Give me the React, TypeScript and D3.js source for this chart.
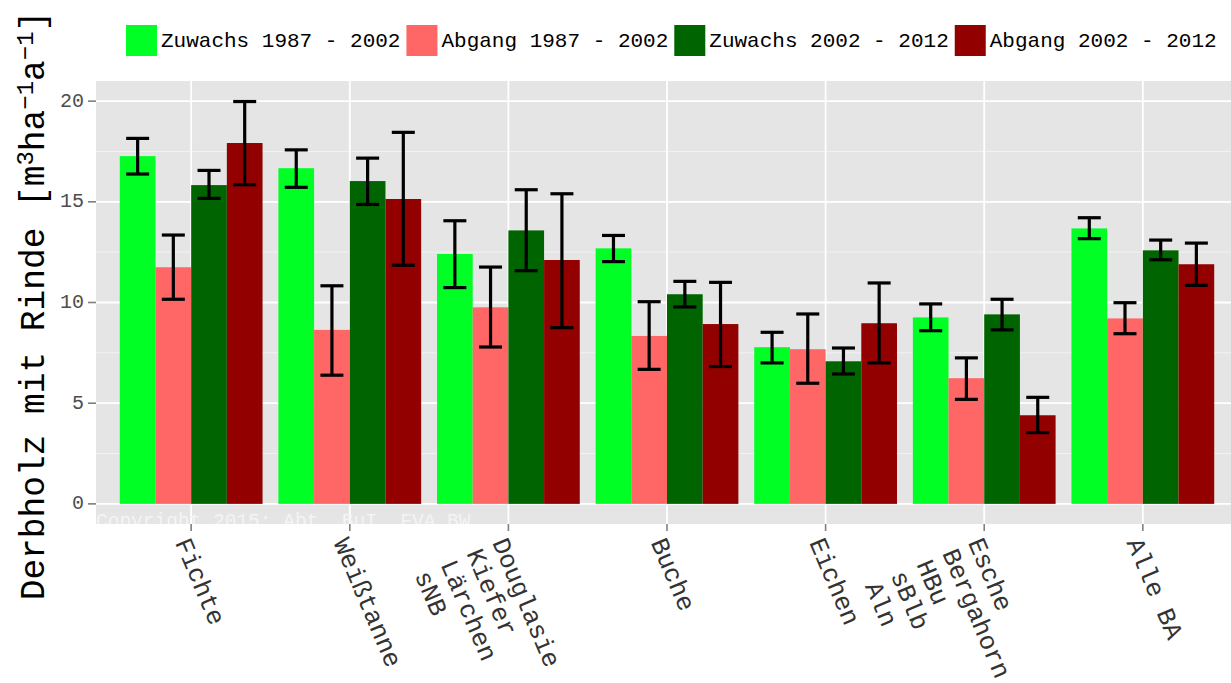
import React, { useRef, useEffect } from 'react';
import * as d3 from 'd3';

// Baumarten (multi-line labels use \n)
const categories = [
  'Fichte',
  'Weißtanne',
  'Douglasie\nKiefer\nLärchen\nsNB',
  'Buche',
  'Eichen',
  'Esche\nBergahorn\nHBu\nsBlb\nAln',
  'Alle BA',
];

const seriesNames = ['Zuwachs 1987 - 2002', 'Abgang 1987 - 2002', 'Zuwachs 2002 - 2012', 'Abgang 2002 - 2012'];
const seriesColors = ['#00ff24', '#ff6666', '#006400', '#930000'];

// means
const zuwachs87 = [17.27, 16.67, 12.41, 12.69, 7.78, 9.26, 13.68];
const abgang87 = [11.75, 8.64, 9.76, 8.34, 7.68, 6.24, 9.21];
const zuwachs02 = [15.83, 16.03, 13.58, 10.41, 7.08, 9.41, 12.59];
const abgang02 = [17.92, 15.14, 12.11, 8.93, 8.97, 4.4, 11.9];

// error bar limits
const zuwachs87Lo = [16.38, 15.72, 10.74, 12.03, 7.0, 8.6, 13.17];
const zuwachs87Hi = [18.15, 17.58, 14.06, 13.33, 8.52, 9.93, 14.21];
const abgang87Lo = [10.16, 6.39, 7.79, 6.68, 5.99, 5.19, 8.45];
const abgang87Hi = [13.35, 10.83, 11.76, 10.04, 9.43, 7.25, 9.99];
const zuwachs02Lo = [15.17, 14.87, 11.58, 9.78, 6.45, 8.64, 12.12];
const zuwachs02Hi = [16.56, 17.17, 15.6, 11.05, 7.74, 10.16, 13.1];
const abgang02Lo = [15.85, 11.85, 8.75, 6.82, 7.0, 3.54, 10.85];
const abgang02Hi = [19.98, 18.45, 15.4, 11.0, 10.97, 5.29, 12.95];

const yTicks = [0, 5, 10, 15, 20];
const yMinorTicks = [2.5, 7.5, 12.5, 17.5];

const MONO = '"Liberation Mono", "DejaVu Sans Mono", monospace';

const App: React.FC = () => {
  const svgRef = useRef<SVGSVGElement>(null);

  useEffect(() => {
    if (!svgRef.current) return;
    const svg = d3.select(svgRef.current);
    svg.selectAll('*').remove();

    const width = 1231;
    const height = 683;
    const panel = { left: 96, right: 1238, top: 81, bottom: 524 };

    const means = [zuwachs87, abgang87, zuwachs02, abgang02];
    const los = [zuwachs87Lo, abgang87Lo, zuwachs02Lo, abgang02Lo];
    const his = [zuwachs87Hi, abgang87Hi, zuwachs02Hi, abgang02Hi];

    const x = d3.scalePoint<string>().domain(categories).range([panel.left, panel.right]).padding(0.6);
    const step = x.step();
    const x1 = d3.scaleBand<string>().domain(seriesNames).range([-0.45 * step, 0.45 * step]).padding(0);
    const y = d3.scaleLinear().domain([-1, 21]).range([panel.bottom, panel.top]);

    svg.attr('viewBox', `0 0 ${width} ${height}`);

    // panel
    svg.append('rect')
      .attr('x', panel.left).attr('y', panel.top)
      .attr('width', panel.right - panel.left).attr('height', panel.bottom - panel.top)
      .attr('fill', '#e5e5e5');

    // minor grid
    svg.append('g').selectAll('line').data(yMinorTicks).enter().append('line')
      .attr('x1', panel.left).attr('x2', panel.right)
      .attr('y1', (d) => y(d)).attr('y2', (d) => y(d))
      .attr('stroke', '#f2f2f2').attr('stroke-width', 1);

    // major grid
    svg.append('g').selectAll('line').data(yTicks).enter().append('line')
      .attr('x1', panel.left).attr('x2', panel.right)
      .attr('y1', (d) => y(d)).attr('y2', (d) => y(d))
      .attr('stroke', '#ffffff').attr('stroke-width', 1.8);
    svg.append('g').selectAll('line').data(categories).enter().append('line')
      .attr('x1', (d) => x(d)!).attr('x2', (d) => x(d)!)
      .attr('y1', panel.top).attr('y2', panel.bottom)
      .attr('stroke', '#ffffff').attr('stroke-width', 1.8);

    // copyright (clipped to panel)
    svg.append('clipPath').attr('id', 'panel-clip')
      .append('rect')
      .attr('x', panel.left).attr('y', panel.top)
      .attr('width', panel.right - panel.left).attr('height', panel.bottom - panel.top);
    svg.append('text')
      .attr('clip-path', 'url(#panel-clip)')
      .attr('x', panel.left).attr('y', panel.bottom + 3)
      .attr('font-family', MONO).attr('font-size', 19.5)
      .attr('fill', '#f4f4f4')
      .text('Copyright 2015: Abt. BuI, FVA BW');

    // bars
    seriesNames.forEach((s, si) => {
      svg.append('g').selectAll('rect').data(categories).enter().append('rect')
        .attr('x', (d) => x(d)! + x1(s)!)
        .attr('width', x1.bandwidth())
        .attr('y', (_, i) => y(means[si][i]))
        .attr('height', (_, i) => y(0) - y(means[si][i]))
        .attr('fill', seriesColors[si]);
    });

    // error bars
    const capW = 23;
    seriesNames.forEach((s, si) => {
      const g = svg.append('g').attr('stroke', '#000').attr('stroke-width', 3.2).attr('fill', 'none');
      categories.forEach((c, i) => {
        const cx = x(c)! + x1(s)! + x1.bandwidth() / 2;
        g.append('line').attr('x1', cx).attr('x2', cx).attr('y1', y(los[si][i])).attr('y2', y(his[si][i]));
        g.append('line').attr('x1', cx - capW / 2).attr('x2', cx + capW / 2).attr('y1', y(los[si][i])).attr('y2', y(los[si][i]));
        g.append('line').attr('x1', cx - capW / 2).attr('x2', cx + capW / 2).attr('y1', y(his[si][i])).attr('y2', y(his[si][i]));
      });
    });

    // y axis
    const yAxis = svg.append('g');
    yAxis.selectAll('line').data(yTicks).enter().append('line')
      .attr('x1', panel.left - 8).attr('x2', panel.left)
      .attr('y1', (d) => y(d)).attr('y2', (d) => y(d))
      .attr('stroke', '#7f7f7f').attr('stroke-width', 1.6);
    yAxis.selectAll('text').data(yTicks).enter().append('text')
      .attr('x', panel.left - 12).attr('y', (d) => y(d))
      .attr('text-anchor', 'end').attr('dominant-baseline', 'central')
      .attr('font-family', MONO).attr('font-size', 20).attr('fill', '#4d4d4d')
      .text((d) => String(d));

    // x axis
    const xAxis = svg.append('g');
    xAxis.selectAll('line').data(categories).enter().append('line')
      .attr('x1', (d) => x(d)!).attr('x2', (d) => x(d)!)
      .attr('y1', panel.bottom).attr('y2', panel.bottom + 7)
      .attr('stroke', '#7f7f7f').attr('stroke-width', 1.6);
    const angle = 67;
    categories.forEach((c) => {
      const t = xAxis.append('text')
        .attr('transform', `translate(${x(c)! + 1},${panel.bottom + 11}) rotate(${angle})`)
        .attr('font-family', MONO).attr('font-size', 25.5).attr('fill', '#333333');
      c.split('\n').forEach((line, li) => {
        t.append('tspan').attr('x', 0).attr('y', 19 + li * 28).text(line);
      });
    });

    // y title
    const title = svg.append('text')
      .attr('transform', `translate(44,${(panel.top + panel.bottom) / 2 + 3}) rotate(-90)`)
      .attr('text-anchor', 'middle')
      .attr('font-family', MONO).attr('font-size', 34.5).attr('fill', '#000');
    title.append('tspan').text('Derbholz mit Rinde [m');
    title.append('tspan').attr('baseline-shift', '45%').attr('font-size', 24).text('3');
    title.append('tspan').text('ha');
    title.append('tspan').attr('baseline-shift', '45%').attr('font-size', 24).text('\u22121');
    title.append('tspan').text('a');
    title.append('tspan').attr('baseline-shift', '45%').attr('font-size', 24).text('\u22121');
    title.append('tspan').text(']');

    // legend
    const legend = svg.append('g');
    let lx = 126;
    seriesNames.forEach((s, si) => {
      legend.append('rect')
        .attr('x', lx).attr('y', 25).attr('width', 31).attr('height', 31)
        .attr('fill', seriesColors[si]);
      const txt = legend.append('text')
        .attr('x', lx + 35).attr('y', 41)
        .attr('dominant-baseline', 'central')
        .attr('font-family', MONO).attr('font-size', 21).attr('fill', '#000')
        .text(s);
      const w = (txt.node() as SVGTextElement).getComputedTextLength();
      lx += 35 + w + 6;
    });
  }, []);

  return (
    <div style={{ width: 1231, height: 683, background: '#fff' }}>
      <style>{'body{margin:0}'}</style>
      <svg ref={svgRef} width={1231} height={683} style={{ display: 'block' }} />
    </div>
  );
};

export default App;
